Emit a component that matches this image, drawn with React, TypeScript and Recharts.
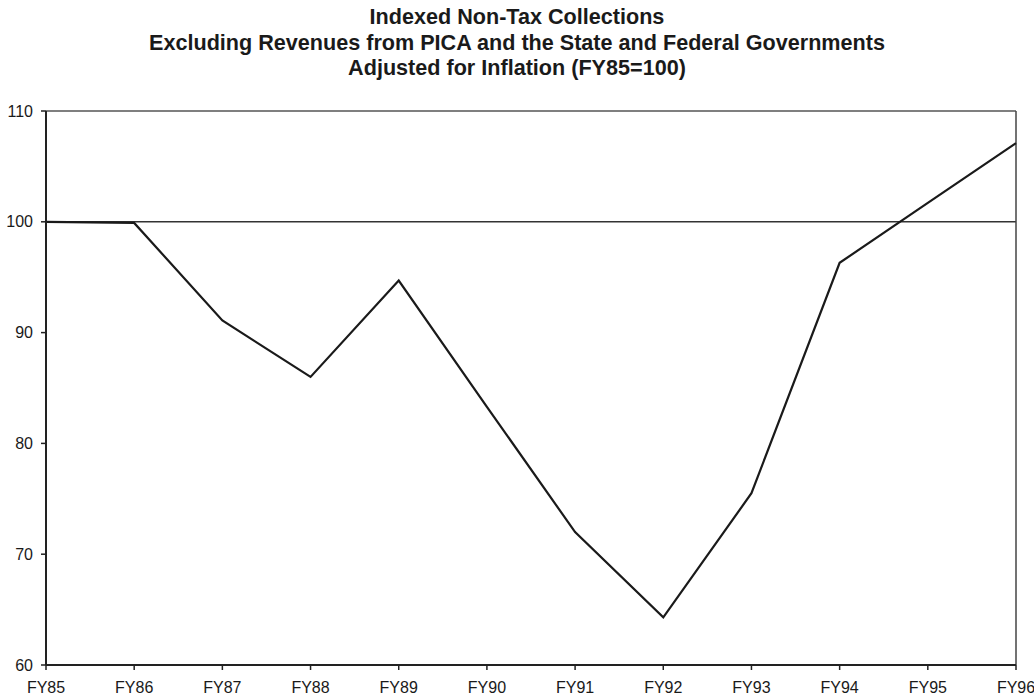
import { LineChart, Line, XAxis, YAxis, ReferenceLine } from 'recharts'

const years = ['FY85', 'FY86', 'FY87', 'FY88', 'FY89', 'FY90', 'FY91', 'FY92', 'FY93', 'FY94', 'FY95', 'FY96']
const indexValues = [100, 99.9, 91.1, 86.0, 94.7, 83.3, 72.0, 64.3, 75.5, 96.3, 101.7, 107.1]
const yTicks = [60, 70, 80, 90, 100, 110]
const titleLines = [
  'Indexed Non-Tax Collections',
  'Excluding Revenues from PICA and the State and Federal Governments',
  'Adjusted for Inflation (FY85=100)',
]

const data = years.map((year, i) => ({ year, value: indexValues[i] }))

const tickStyle = { fontSize: 16, fill: '#1a1a1a', fontFamily: '"Liberation Sans", Arial, sans-serif' }

export default function App() {
  return (
    <div style={{ position: 'absolute', left: 0, top: 0, width: 1034, height: 698, background: '#fff' }}>
      <div
        style={{
          position: 'absolute',
          top: 4,
          left: 0,
          width: 1034,
          textAlign: 'center',
          fontFamily: '"Liberation Sans", Arial, sans-serif',
          fontWeight: 'bold',
          fontSize: 21.6,
          lineHeight: '25.5px',
          color: '#1a1a1a',
        }}
      >
        {titleLines.map(t => <div key={t}>{t}</div>)}
      </div>
      <LineChart width={1034} height={698} data={data} margin={{ top: 111, right: 18, bottom: 0, left: 0 }}>
        <XAxis
          dataKey="year"
          interval={0}
          height={33}
          tickSize={5}
          tickMargin={12}
          tick={tickStyle}
          axisLine={{ stroke: '#222', strokeWidth: 2 }}
          tickLine={{ stroke: '#222', strokeWidth: 1.5 }}
        />
        <YAxis
          type="number"
          domain={[60, 110]}
          ticks={yTicks}
          width={46}
          tickSize={5}
          tickMargin={8}
          tick={tickStyle}
          axisLine={{ stroke: '#222', strokeWidth: 2 }}
          tickLine={{ stroke: '#222', strokeWidth: 1.5 }}
        />
        <ReferenceLine y={110} stroke="#555" strokeWidth={1.5} />
        <ReferenceLine y={100} stroke="#333" strokeWidth={1.5} />
        <ReferenceLine x="FY96" stroke="#444" strokeWidth={1.5} />
        <Line type="linear" dataKey="value" stroke="#1a1a1a" strokeWidth={2.2} dot={false} isAnimationActive={false} />
      </LineChart>
    </div>
  )
}
